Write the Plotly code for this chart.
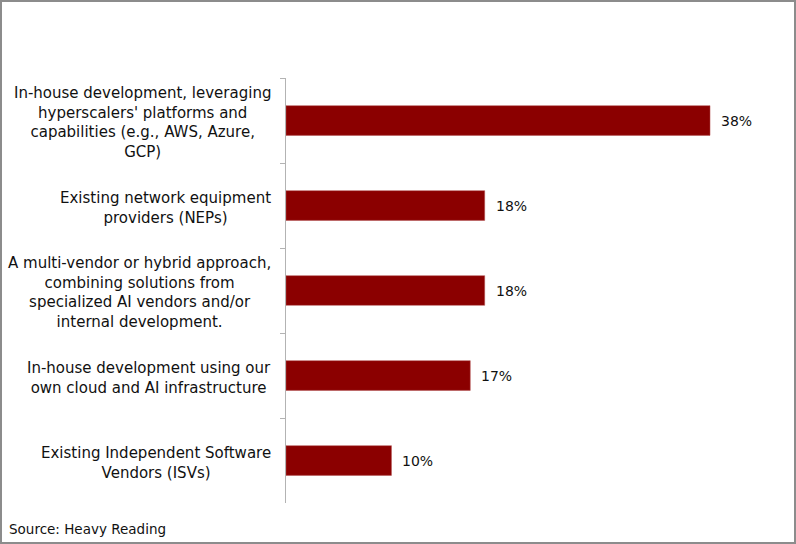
import plotly.graph_objects as go

# categories, top to bottom
categories = [
    "In-house development, leveraging<br>hyperscalers' platforms and<br>capabilities (e.g., AWS, Azure,<br>GCP)",
    "Existing network equipment<br>providers (NEPs)",
    "A multi-vendor or hybrid approach,<br>combining solutions from<br>specialized AI vendors and/or<br>internal development.",
    "In-house development using our<br>own cloud and AI infrastructure",
    "Existing Independent Software<br>Vendors (ISVs)",
]
values = [38.2, 17.9, 17.9, 16.6, 9.5]
value_labels = ["38%", "18%", "18%", "17%", "10%"]
source_text = "Source: Heavy Reading"

W, H = 796, 544
ML, MR, MT, MB = 286, 10, 78, 41
PW, PH = W - ML - MR, H - MT - MB
FONT = "Verdana, DejaVu Sans, sans-serif"

fig = go.Figure()
fig.add_trace(go.Bar(
    y=categories, x=values, orientation="h",
    marker=dict(color="#8B0000", line=dict(color="#b35050", width=0.5)),
    width=0.35, hoverinfo="skip",
))

annotations = []
for cat, v, lab in zip(categories, values, value_labels):
    annotations.append(dict(x=v, y=cat, xref="x", yref="y", text=lab, showarrow=False,
                            xanchor="left", xshift=9, font=dict(size=14, color="#111")))
    annotations.append(dict(x=0, y=cat, xref="paper", yref="y", text=cat, showarrow=False,
                            xanchor="right", xshift=-13, yshift=-2, align="center",
                            font=dict(size=15, color="#111")))
annotations.append(dict(x=-ML / PW + 7 / PW, y=-(MB - 15) / PH, xref="paper", yref="paper",
                        text=source_text, showarrow=False, xanchor="left", yanchor="middle",
                        font=dict(size=13.5, color="#111")))

fig.update_layout(
    width=W, height=H,
    margin=dict(l=ML, r=MR, t=MT, b=MB),
    paper_bgcolor="white", plot_bgcolor="white",
    font=dict(family=FONT, size=14, color="#111"),
    showlegend=False,
    xaxis=dict(visible=False, range=[0, PW / 11.1], fixedrange=True),
    yaxis=dict(type="category", range=[len(categories) - 0.5, -0.5],
               showticklabels=False,
               showline=True, linecolor="#b3b3b3", linewidth=1,
               ticks="outside", tickson="boundaries", ticklen=5, tickcolor="#b3b3b3",
               showgrid=False, zeroline=False, fixedrange=True),
    annotations=annotations,
    shapes=[dict(type="rect", xref="paper", yref="paper",
                 x0=-(ML - 1) / PW, x1=1 + (MR - 1) / PW,
                 y0=-(MB - 1) / PH, y1=1 + (MT - 1) / PH,
                 line=dict(color="#8c8c8c", width=2))],
)

fig.write_html("out.html", config={"displayModeBar": False},
               post_script="document.body.style.margin='0';document.body.style.overflow='hidden';")
